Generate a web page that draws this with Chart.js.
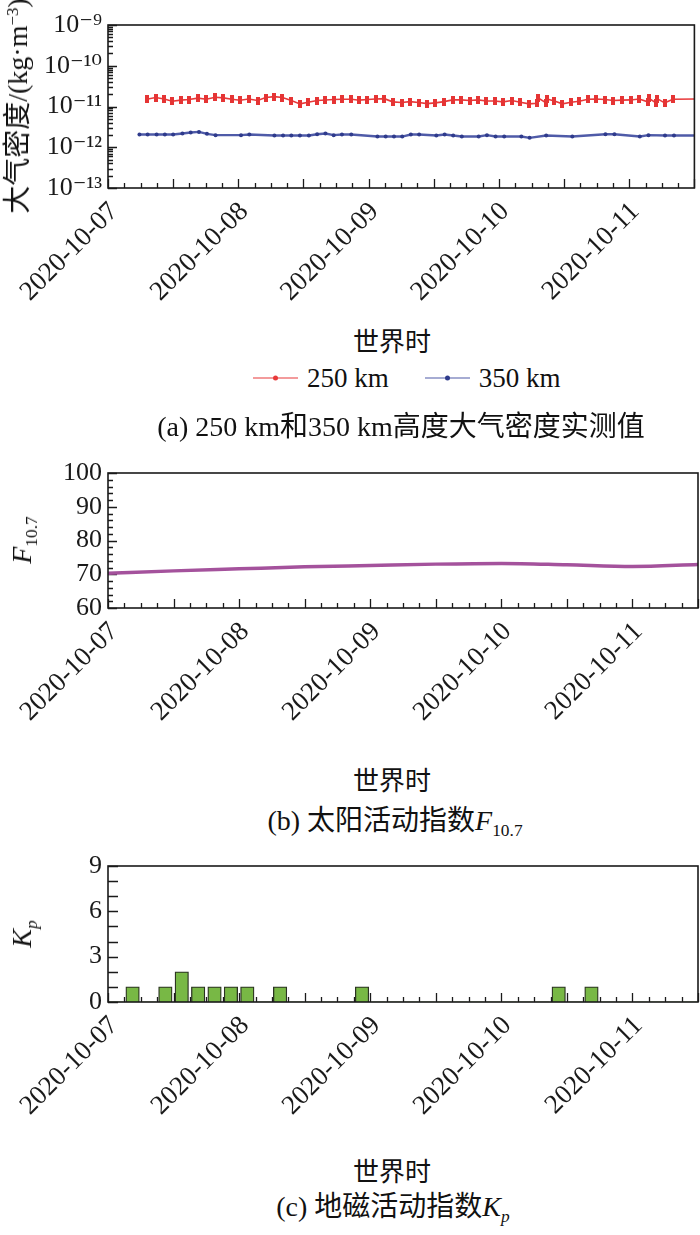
<!DOCTYPE html>
<html><head><meta charset="utf-8">
<script src="https://cdn.jsdelivr.net/npm/chart.js@4.4.1/dist/chart.umd.min.js"></script>
<style>
html,body{margin:0;padding:0;background:#fff;}
body{width:700px;height:1235px;position:relative;overflow:hidden;font-family:"Liberation Serif","Noto Sans CJK SC",serif;color:#111;}
canvas{position:absolute;left:0;}
.t{position:absolute;white-space:nowrap;line-height:1;transform:translate(-50%,-50%);}
.r{transform:translate(-50%,-50%) rotate(-90deg);}
sup{font-size:0.6em;vertical-align:0;position:relative;top:-0.55em;}
sub{font-size:0.62em;vertical-align:0;position:relative;top:0.32em;}
#legend{position:absolute;left:253px;top:378px;transform:translateY(-50%);display:flex;align-items:center;font-size:27px;line-height:1;}
.li{display:flex;align-items:center;margin-right:36px;}
.ln{position:relative;width:45px;height:0;border-top:1.5px solid;margin-right:9px;}
.dt{position:absolute;left:20px;top:-3.5px;width:5px;height:5px;border-radius:50%;}
</style></head><body>
<canvas id="ca" width="700" height="320" style="top:0"></canvas>
<canvas id="cb" width="700" height="300" style="top:440px"></canvas>
<canvas id="cc" width="700" height="300" style="top:840px"></canvas>

<div class="t r" style="left:18px;top:106px;font-size:28px">大气密度/(kg·m<sup>−3</sup>)</div>
<div class="t" style="left:392px;top:343px;font-size:26px">世界时</div>
<div id="legend"></div>
<div class="t" style="left:401px;top:427px;font-size:28px">(a) 250 km和350 km高度大气密度实测值</div>

<div class="t r" style="left:22px;top:540px;font-size:28px"><i>F</i><sub>10.7</sub></div>
<div class="t" style="left:392px;top:782px;font-size:26px">世界时</div>
<div class="t" style="left:395px;top:821px;font-size:28px">(b) 太阳活动指数<i>F</i><sub>10.7</sub></div>

<div class="t r" style="left:22px;top:934px;font-size:28px"><i>K</i><sub><i>p</i></sub></div>
<div class="t" style="left:392px;top:1173px;font-size:26px">世界时</div>
<div class="t" style="left:393px;top:1207px;font-size:28px">(c) 地磁活动指数<i>K</i><sub><i>p</i></sub></div>

<script>
// ---------- data ----------
const dateLabels = ['2020-10-07','2020-10-08','2020-10-09','2020-10-10','2020-10-11'];
const dateTickHours = [0,24,48,72,96];          // hours since 2020-10-07 00:00 UT
const xRangeHours = [0,108];

const densityTickValues = [1e-13,1e-12,1e-11,1e-10,1e-9];
const densityTickLabels = ['10⁻¹³','10⁻¹²','10⁻¹¹','10⁻¹⁰','10⁻⁹'];

// 250 km density (x 1e-11 kg/m^3)
const rho250Hours = [7.13,8.78,10.36,11.82,13.41,14.87,16.58,18.10,19.75,21.27,22.79,24.32,25.90,27.54,29.08,30.65,32.12,33.76,35.35,36.87,38.52,40.05,41.57,43.09,44.80,46.27,47.79,49.31,50.90,52.42,54.07,55.60,57.24,58.76,60.28,61.93,63.46,65.04,66.62,68.15,69.68,71.20,72.79,74.36,75.95,77.54,79.06,79.20,80.70,80.84,82.23,83.69,85.28,86.80,88.39,89.90,91.50,93.08,94.66,96.25,97.84,99.42,99.56,101.00,101.14,102.53,104.06,111];
const rho250 = [1.51,1.66,1.53,1.35,1.43,1.48,1.60,1.51,1.69,1.63,1.51,1.43,1.53,1.40,1.66,1.75,1.66,1.40,1.16,1.27,1.40,1.45,1.48,1.51,1.51,1.43,1.48,1.53,1.56,1.30,1.25,1.32,1.25,1.18,1.23,1.32,1.45,1.45,1.40,1.45,1.37,1.37,1.30,1.40,1.27,1.16,1.20,1.63,1.23,1.53,1.37,1.16,1.27,1.35,1.51,1.53,1.48,1.40,1.43,1.45,1.53,1.30,1.60,1.20,1.56,1.23,1.51,1.53];
const rho250Unit = 1e-11;

// 350 km density (x 1e-12 kg/m^3)
const rho350Hours = [5.79,7.30,8.95,10.48,12.00,13.71,15.23,16.76,18.22,19.81,24.50,26.03,30.65,32.24,33.76,35.35,37.00,38.52,40.05,41.57,43.09,44.80,49.62,51.14,52.67,54.19,55.78,57.30,60.47,62.00,63.57,65.16,68.27,69.79,71.38,72.97,76.13,77.65,80.70,85.52,91.62,93.27,97.95,99.54,102.59,104.24,111];
const rho350 = [2.05,2.05,2.05,2.05,2.05,2.17,2.30,2.38,2.13,1.98,1.98,2.05,1.94,1.94,1.94,1.94,1.94,2.09,2.17,1.98,2.05,2.05,1.83,1.83,1.83,1.83,2.05,2.05,1.94,2.05,1.94,1.83,1.83,1.98,1.83,1.83,1.83,1.70,1.94,1.83,2.09,2.09,1.83,1.98,1.94,1.94,1.94];
const rho350Unit = 1e-12;

// F10.7
const f107Hours = [0,12,24,36,48,60,72,84,96,108];
const f107 = [70.3,71.0,71.6,72.2,72.6,73.0,73.2,72.8,72.3,72.9];

// Kp (3-hour intervals, centre hours)
const kpHours = [1.5,4.5,7.5,10.5,13.5,16.5,19.5,22.5,25.5,28.5,31.5,34.5,37.5,40.5,43.5,46.5,49.5,52.5,55.5,58.5,61.5,64.5,67.5,70.5,73.5,76.5,79.5,82.5,85.5,88.5,91.5,94.5,97.5,100.5,103.5,106.5];
const kpValues = [0,1,0,1,2,1,1,1,1,0,1,0,0,0,0,1,0,0,0,0,0,0,0,0,0,0,0,1,0,1,0,0,0,0,0,0];

// ---------- helpers ----------
const SERIF = 'Liberation Serif, DejaVu Serif, serif';
const INK = '#1a1a1a';
Chart.defaults.font.family = SERIF;

// small vertical-dash marker for the 250 km series
const redMarker = document.createElement('canvas');
redMarker.width = 4; redMarker.height = 8;
(function () { const c = redMarker.getContext('2d'); c.fillStyle = '#e53434'; c.fillRect(0, 0, 4, 8); })();

const frameTicks = {
  id: 'frameTicks',
  beforeDatasetsDraw(chart, args, opts) {
    const ctx = chart.ctx, a = chart.chartArea, xs = chart.scales.x, ys = chart.scales.y;
    ctx.save();
    ctx.strokeStyle = INK; ctx.lineWidth = 1.3; ctx.beginPath();
    (opts.xTicks || []).forEach(([v, len]) => {
      const px = Math.round(xs.getPixelForValue(v)) + 0.5;
      ctx.moveTo(px, a.bottom); ctx.lineTo(px, a.bottom - len);
    });
    (opts.yTicks || []).forEach(([v, len]) => {
      const py = Math.round(ys.getPixelForValue(v)) + 0.5;
      ctx.moveTo(a.left, py); ctx.lineTo(a.left + len, py);
    });
    ctx.stroke(); ctx.restore();
  },
  afterDatasetsDraw(chart) {
    const ctx = chart.ctx, a = chart.chartArea;
    ctx.save(); ctx.strokeStyle = INK; ctx.lineWidth = 1.6;
    ctx.strokeRect(a.left, a.top, a.right - a.left, a.bottom - a.top);
    ctx.restore();
  }
};

function timeTicks() {
  const t = [];
  for (let h = xRangeHours[0]; h <= xRangeHours[1]; h += 3) t.push([h, h % 12 === 0 ? 9 : 5]);
  return t;
}

function xAxis(height) {
  return {
    type: 'linear', min: xRangeHours[0], max: xRangeHours[1], offset: false,
    afterBuildTicks: s => { s.ticks = dateTickHours.map(v => ({ value: v })); },
    afterFit: s => { s.height = height; },
    grid: { display: false, drawTicks: false, offset: false }, border: { display: false },
    ticks: {
      autoSkip: false, minRotation: 45, maxRotation: 45, padding: 8, labelOffset: 6,
      color: INK, font: { family: SERIF, size: 27 },
      callback: (v, i) => dateLabels[i]
    }
  };
}

function yBase(extra) {
  return Object.assign({
    afterFit: s => { s.width = 108; },
    grid: { display: false, drawTicks: false }, border: { display: false },
  }, extra);
}

function draw() {
// ---------- chart (a) ----------
const densTicks = [];
for (let d = -13; d < -9; d++) for (let m = 1; m <= 9; m++) densTicks.push([m * Math.pow(10, d), m === 1 ? 9 : 5]);
densTicks.push([1e-9, 9]);

const chartA = new Chart(document.getElementById('ca'), {
  type: 'line',
  data: {
    datasets: [
      { label: '250 km', data: rho250Hours.map((h, i) => ({ x: h, y: rho250[i] * rho250Unit })),
        borderColor: '#e8393a', backgroundColor: '#e8393a', borderWidth: 1.6,
        pointStyle: redMarker, pointRadius: 3, tension: 0 },
      { label: '350 km', data: rho350Hours.map((h, i) => ({ x: h, y: rho350[i] * rho350Unit })),
        borderColor: '#4f5ba8', backgroundColor: '#2f3b8c', borderWidth: 2.4,
        pointStyle: 'circle', pointRadius: 2, pointBorderWidth: 0, tension: 0 }
    ]
  },
  options: {
    responsive: false, animation: false, devicePixelRatio: 1,
    layout: { padding: { top: 25, right: 2, left: 0, bottom: 0 } },
    plugins: { legend: { display: false }, tooltip: { enabled: false },
      frameTicks: { xTicks: timeTicks(), yTicks: densTicks } },
    scales: {
      x: xAxis(132),
      y: yBase({ type: 'logarithmic', min: 1e-13, max: 1e-9,
        afterBuildTicks: s => { s.ticks = densityTickValues.map(v => ({ value: v })); },
        ticks: { autoSkip: false, padding: 6, color: INK, font: { family: SERIF, size: 26 }, callback: (v, i) => densityTickLabels[i] } })
    }
  },
  plugins: [frameTicks]
});

// legend built from datasets
const legEl = document.getElementById('legend');
chartA.data.datasets.forEach(ds => {
  const item = document.createElement('div'); item.className = 'li';
  const ln = document.createElement('div'); ln.className = 'ln'; ln.style.borderTopColor = ds.borderColor;
  const dt = document.createElement('div'); dt.className = 'dt'; dt.style.background = ds.backgroundColor;
  ln.appendChild(dt);
  const tx = document.createElement('span'); tx.textContent = ds.label;
  item.appendChild(ln); item.appendChild(tx); legEl.appendChild(item);
});

// ---------- chart (b) ----------
const fTicks = [];
for (let v = 60; v <= 100; v += 2) fTicks.push([v, v % 10 === 0 ? 9 : 5]);

new Chart(document.getElementById('cb'), {
  type: 'line',
  data: {
    datasets: [{ label: 'F10.7', data: f107Hours.map((h, i) => ({ x: h, y: f107[i] })),
      borderColor: '#a4529c', borderWidth: 3.5, pointRadius: 0, cubicInterpolationMode: 'monotone' }]
  },
  options: {
    responsive: false, animation: false, devicePixelRatio: 1,
    layout: { padding: { top: 33, right: 2, left: 0, bottom: 0 } },
    plugins: { legend: { display: false }, tooltip: { enabled: false },
      frameTicks: { xTicks: timeTicks(), yTicks: fTicks } },
    scales: {
      x: xAxis(132),
      y: yBase({ type: 'linear', min: 60, max: 100,
        ticks: { autoSkip: false, stepSize: 10, padding: 6, color: INK, font: { family: SERIF, size: 26 } } })
    }
  },
  plugins: [frameTicks]
});

// ---------- chart (c) ----------
const kTicks = [];
for (let v = 0; v <= 9; v++) kTicks.push([v, 10]);

new Chart(document.getElementById('cc'), {
  type: 'bar',
  data: {
    datasets: [{ label: 'Kp', data: kpHours.map((h, i) => ({ x: h, y: kpValues[i] })),
      backgroundColor: '#78b845', borderColor: '#2b3322',
      borderWidth: c => (c.raw && c.raw.y > 0 ? 1.3 : 0), barThickness: 13.5 }]
  },
  options: {
    responsive: false, animation: false, devicePixelRatio: 1,
    layout: { padding: { top: 26, right: 2, left: 0, bottom: 0 } },
    plugins: { legend: { display: false }, tooltip: { enabled: false },
      frameTicks: { xTicks: timeTicks(), yTicks: kTicks } },
    scales: {
      x: xAxis(138),
      y: yBase({ type: 'linear', min: 0, max: 9,
        ticks: { autoSkip: false, stepSize: 3, padding: 6, color: INK, font: { family: SERIF, size: 26 } } })
    }
  },
  plugins: [frameTicks]
});
}

if (document.fonts && document.fonts.load) {
  Promise.all([
    document.fonts.load('27px "Liberation Serif"'),
    document.fonts.load('italic 27px "Liberation Serif"')
  ]).then(draw, draw);
} else { draw(); }
</script>
</body></html>
